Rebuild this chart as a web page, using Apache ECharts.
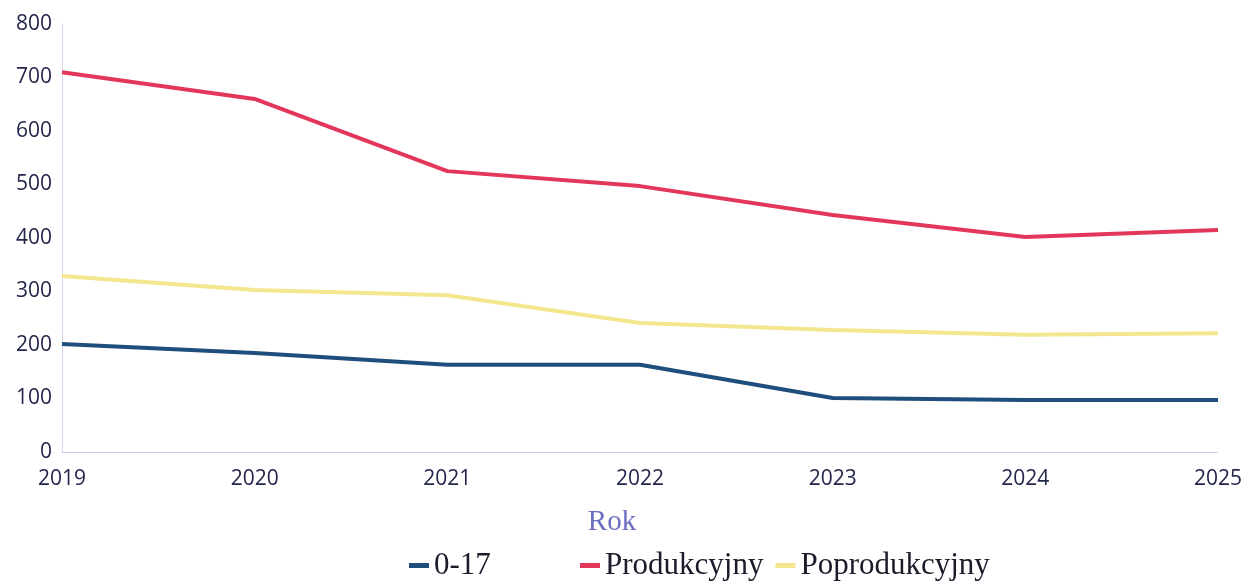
<!DOCTYPE html>
<html>
<head>
<meta charset="utf-8">
<script src="https://cdn.jsdelivr.net/npm/echarts@6/dist/echarts.min.js"></script>
<style>
  html, body { margin: 0; padding: 0; background: #fff; }
  #chart { width: 1245px; height: 581px; }
</style>
</head>
<body>
<div id="chart"></div>
<script>
  var years = ['2019', '2020', '2021', '2022', '2023', '2024', '2025'];
  var age017 = [202, 185, 163, 163, 101, 97, 97];
  var produkcyjny = [710, 660, 525, 497, 443, 402, 415];
  var poprodukcyjny = [329, 303, 293, 241, 228, 219, 222];

  var chart = echarts.init(document.getElementById('chart'));
  var serif = '"Liberation Serif", "DejaVu Serif", serif';

  var option = {
    animation: false,
    grid: { left: 62, right: 27, top: 24, bottom: 129 },
    legend: [{
      data: ['0-17'],
      left: 404, top: 545,
      itemWidth: 20, itemHeight: 5,
      icon: 'rect',
      textStyle: { fontFamily: serif, fontSize: 31, color: '#1b1b2b' }
    }, {
      data: ['Produkcyjny', 'Poprodukcyjny'],
      left: 575, top: 545,
      itemWidth: 20, itemHeight: 5, itemGap: 12,
      icon: 'rect',
      textStyle: { fontFamily: serif, fontSize: 31, color: '#1b1b2b' }
    }],
    xAxis: {
      type: 'category',
      data: years,
      boundaryGap: false,
      name: 'Rok',
      nameLocation: 'middle',
      nameGap: 56,
      nameTextStyle: { fontFamily: serif, fontSize: 29, color: '#6b6fc2', padding: [0, 56, 0, 0] },
      axisLine: { lineStyle: { color: '#b9bbe0', type: 'dotted', width: 1 } },
      axisTick: { show: false },
      axisLabel: { fontFamily: '"Open Sans", sans-serif', fontSize: 21, color: '#23264a', margin: 17 }
    },
    yAxis: {
      type: 'value',
      min: 0, max: 800, interval: 100,
      axisLine: { show: true, lineStyle: { color: '#d6d6ec', width: 1 } },
      axisTick: { show: false },
      splitLine: { show: false },
      axisLabel: { fontFamily: '"Open Sans", sans-serif', fontSize: 21, color: '#23264a', margin: 10 }
    },
    series: [{
      name: '0-17', type: 'line', data: age017,
      symbol: 'none', lineStyle: { width: 4, color: '#1f4d7c' }, itemStyle: { color: '#1f4d7c' }
    }, {
      name: 'Produkcyjny', type: 'line', data: produkcyjny,
      symbol: 'none', lineStyle: { width: 4, color: '#e2375a' }, itemStyle: { color: '#e2375a' }
    }, {
      name: 'Poprodukcyjny', type: 'line', data: poprodukcyjny,
      symbol: 'none', lineStyle: { width: 4, color: '#f3e68f' }, itemStyle: { color: '#f3e68f' }
    }]
  };
  chart.setOption(option);
</script>
</body>
</html>
